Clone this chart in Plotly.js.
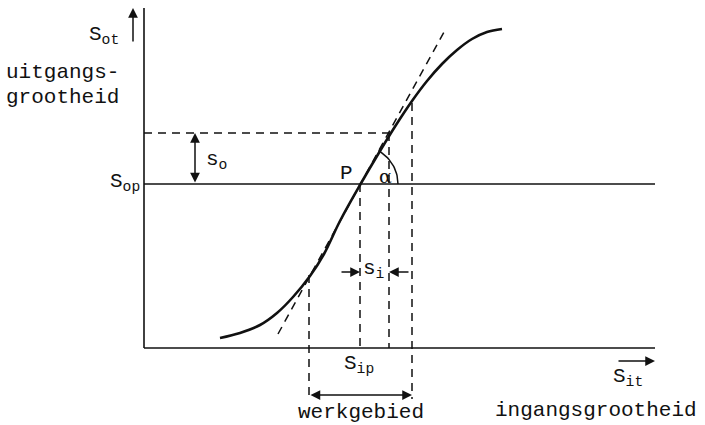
<!DOCTYPE html>
<html>
<head>
<meta charset="utf-8">
<script src="https://cdn.plot.ly/plotly-3.0.1.min.js"></script>
<style>
  html, body { margin: 0; padding: 0; background: #fff; }
  #chart { width: 705px; height: 425px; }
</style>
</head>
<body>
<div id="chart"></div>
<script>
// Transfer characteristic of a sensor: output S_o versus input S_i.
// Coordinates: origin at the axis crossing, one unit per pixel.

// S-shaped characteristic
const curveX = [76, 96, 116, 133, 149, 166, 180, 196, 216, 236, 252, 268, 283, 298, 313, 328, 343, 358];
const curveY = [10, 15, 23, 35, 51, 72, 94, 127, 163, 197, 223, 247, 267, 284, 298, 309, 316, 319];

// tangent through the working point P
const tangentX = [134, 300];
const tangentY = [14, 316];

// working point P = (S_ip, S_op)
const pointP = [216, 164];

// axes and level lines
const axisXEnd = 511;
const axisYEnd = 340;
const levelHigh = 215;          // S_op + s_o

// bounds of the working range and of s_i
const rangeLeft = 165, rangeRight = 268;
const siRight = 245;
const rangeLeftTop = 73, rangeRightTop = 245;
const dimLevel = -47;           // level of the "werkgebied" arrow
const siLevel = 76;             // level of the s_i arrows
const soX = 51;                 // x of the s_o arrow

// labels
const labels = [
  { text: 'S<sub>ot</sub>', x: -40, y: 313, xa: 'center' },
  { text: 'uitgangs-', x: -140, y: 276, xa: 'left' },
  { text: 'grootheid', x: -140, y: 251, xa: 'left' },
  { text: 'S<sub>op</sub>', x: -2, y: 166, xa: 'right' },
  { text: 's<sub>o</sub>', x: 60, y: 188, xa: 'left' },
  { text: 'P', x: 202, y: 175, xa: 'center' },
  { text: 'S<sub>ip</sub>', x: 215, y: -16, xa: 'center' },
  { text: 's<sub>i</sub>', x: 230, y: 79, xa: 'center' },
  { text: 'werkgebied', x: 217, y: -64, xa: 'center' },
  { text: 'S<sub>it</sub>', x: 484, y: -29, xa: 'center' },
  { text: 'ingangsgrootheid', x: 452, y: -62, xa: 'center' }
];

const ink = '#111111';
const font = { family: 'Courier New, Liberation Mono, monospace', size: 21, color: ink };

function line(xs, ys, width, dash) {
  return {
    type: 'scatter', mode: 'lines', x: xs, y: ys, hoverinfo: 'skip',
    line: { color: ink, width: width, dash: dash || 'solid' }
  };
}

// angle arc for alpha, centred on P
const arcR = 38;
const arcEnd = Math.atan2(tangentY[1] - tangentY[0], tangentX[1] - tangentX[0]);
const arcX = [], arcY = [];
for (let i = 0; i <= 24; i++) {
  const t = arcEnd * i / 24;
  arcX.push(pointP[0] + arcR * Math.cos(t));
  arcY.push(pointP[1] + arcR * Math.sin(t));
}

const dash = '8px,6px';
const traces = [
  line([0, 0], [0, axisYEnd], 1.6),
  line([0, axisXEnd], [0, 0], 1.6),
  line([0, axisXEnd], [pointP[1], pointP[1]], 1.6),
  line([0, siRight + 1], [levelHigh, levelHigh], 1.4, dash),
  line(tangentX, tangentY, 1.5, dash),
  line([rangeLeft, rangeLeft], [rangeLeftTop, dimLevel - 4], 1.5, dash),
  line([pointP[0], pointP[0]], [pointP[1], 0], 1.5, dash),
  line([siRight, siRight], [levelHigh, 0], 1.5, dash),
  line([rangeRight, rangeRight], [rangeRightTop, dimLevel - 4], 1.5, dash),
  line(arcX, arcY, 1.5),
  Object.assign(line(curveX, curveY, 2.6), { line: { color: ink, width: 2.6, shape: 'spline', smoothing: 1 } })
];

function arrow(x, y, ax, ay, both) {
  return {
    x: x, y: y, ax: ax, ay: ay, xref: 'x', yref: 'y', axref: 'x', ayref: 'y',
    text: '', showarrow: true, arrowhead: 2, startarrowhead: 2, arrowsize: 1.3,
    startarrowsize: 1.3, arrowwidth: 1.5, arrowcolor: ink,
    arrowside: both ? 'end+start' : 'end', standoff: 0, startstandoff: 0
  };
}

const annotations = [
  arrow(-11, axisYEnd, -11, 305),                       // S_ot direction
  arrow(473 + 38, -13, 473, -13),                       // S_it direction
  arrow(soX, levelHigh, soX, pointP[1], true),          // s_o
  arrow(pointP[0], siLevel, pointP[0] - 20, siLevel),   // s_i left
  arrow(siRight, siLevel, siRight + 21, siLevel),       // s_i right
  arrow(rangeRight, dimLevel, rangeLeft, dimLevel, true), // werkgebied
  { x: 241, y: 172, xref: 'x', yref: 'y', text: 'α', showarrow: false,
    font: { family: 'DejaVu Serif, serif', size: 19, color: ink } }
];
labels.forEach(l => annotations.push({
  x: l.x, y: l.y, xref: 'x', yref: 'y', text: l.text, showarrow: false,
  xanchor: l.xa, yanchor: 'middle', font: font
}));

const layout = {
  width: 705, height: 425,
  margin: { l: 0, r: 0, t: 0, b: 0 },
  paper_bgcolor: '#ffffff', plot_bgcolor: '#ffffff',
  showlegend: false,
  xaxis: { range: [-144, 561], visible: false, fixedrange: true },
  yaxis: { range: [-77, 348], visible: false, fixedrange: true },
  annotations: annotations
};

Plotly.newPlot('chart', traces, layout, { staticPlot: true, displayModeBar: false });
</script>
</body>
</html>
